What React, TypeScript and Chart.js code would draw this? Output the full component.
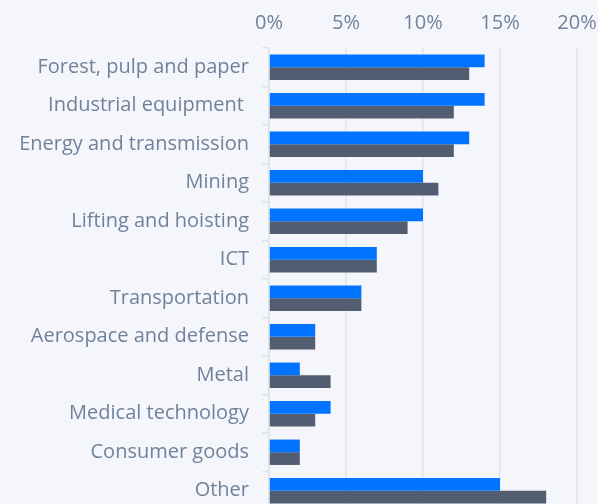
import React, { useEffect, useRef } from "react";
import { Chart, registerables } from "chart.js";

Chart.register(...registerables);

const categories = [
  "Forest, pulp and paper",
  "Industrial equipment ",
  "Energy and transmission",
  "Mining",
  "Lifting and hoisting",
  "ICT",
  "Transportation",
  "Aerospace and defense",
  "Metal",
  "Medical technology",
  "Consumer goods",
  "Other",
];
const seriesA = [14, 14, 13, 10, 10, 7, 6, 3, 2, 4, 2, 15];
const seriesB = [13, 12, 12, 11, 9, 7, 6, 3, 4, 3, 2, 18];
const xTicks = [0, 5, 10, 15, 20];

const BG = "#f5f6fb";
const TEXT = "#70829b";
const GRID = "#dfe3ea";
const FONT = "'Open Sans'";

export default function App() {
  const ref = useRef<HTMLCanvasElement | null>(null);
  useEffect(() => {
    if (!ref.current) return;
    const chart = new Chart(ref.current, {
      type: "bar",
      data: {
        labels: categories,
        datasets: [
          { label: "A", data: seriesA, backgroundColor: "#0074ff", categoryPercentage: 0.66, barPercentage: 1 },
          { label: "B", data: seriesB, backgroundColor: "#525d71", categoryPercentage: 0.66, barPercentage: 1 },
        ],
      },
      options: {
        indexAxis: "y",
        animation: false,
        responsive: false,
        maintainAspectRatio: false,
        layout: { padding: { top: 0, right: 21, bottom: 2, left: 0 } },
        plugins: { legend: { display: false }, tooltip: { enabled: false } },
        scales: {
          x: {
            position: "top",
            min: 0,
            max: 20,
            afterBuildTicks: (s: any) => {
              s.ticks = xTicks.map((v) => ({ value: v }));
            },
            afterFit: (s: any) => {
              s.height = 48;
              s.paddingLeft = 0;
              s.paddingRight = 0;
            },
            grid: { color: GRID, lineWidth: 1.5, drawTicks: false },
            border: { display: false },
            ticks: {
              color: TEXT,
              font: { family: FONT, size: 20 },
              padding: 13,
              callback: (v: any) => v + "%",
            },
          },
          y: {
            afterFit: (s: any) => {
              s.width = 269;
              s.paddingTop = 0;
              s.paddingBottom = 0;
            },
            grid: { offset: true, drawOnChartArea: false, color: GRID, lineWidth: 1.5, tickLength: 7 },
            border: { display: true, color: GRID, width: 1.5 },
            ticks: {
              color: TEXT,
              font: { family: FONT, size: 20 },
              padding: 13,
            },
          },
        },
      },
      plugins: [
        {
          id: "bg",
          beforeDraw: (c: any) => {
            const ctx = c.ctx;
            ctx.save();
            ctx.fillStyle = BG;
            ctx.fillRect(0, 0, c.width, c.height);
            ctx.restore();
          },
        },
      ],
    });
    return () => chart.destroy();
  }, []);
  return (
    <div style={{ position: "fixed", left: 0, top: 0, width: 598, height: 512, background: BG }}>
      <canvas ref={ref} width={598} height={512} style={{ display: "block" }} />
    </div>
  );
}
